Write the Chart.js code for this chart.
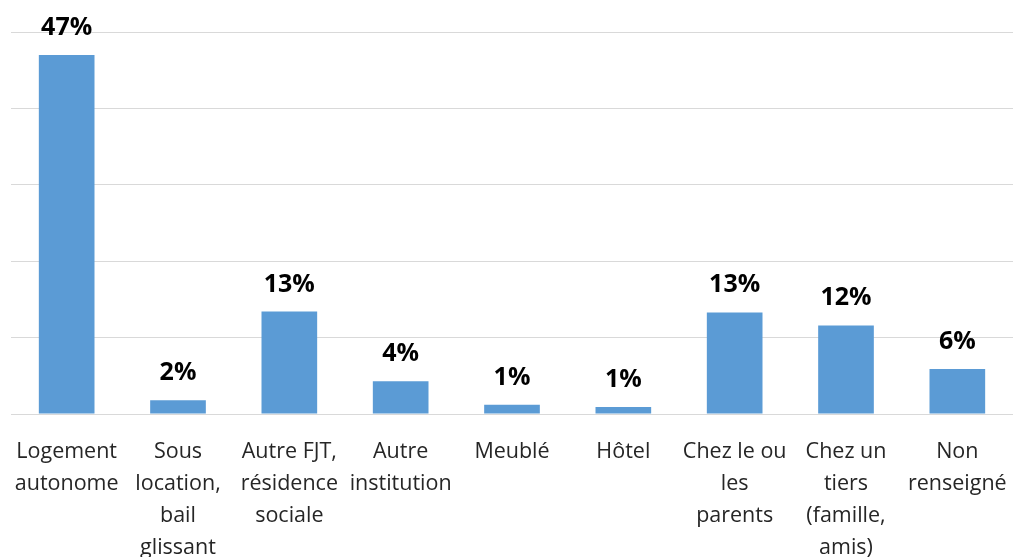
<!DOCTYPE html>
<html>
<head>
<meta charset="utf-8">
<script src="https://cdn.jsdelivr.net/npm/chart.js@4.4.1/dist/chart.umd.min.js"></script>
<style>
html,body{margin:0;padding:0;background:#fff;}
#wrap{width:1013px;height:557px;}
</style>
</head>
<body>
<div id="wrap"><canvas id="c" width="1013" height="557"></canvas></div>
<script>
const categories = [
  ["Logement","autonome"],
  ["Sous","location,","bail","glissant"],
  ["Autre FJT,","résidence","sociale"],
  ["Autre","institution"],
  ["Meublé"],
  ["Hôtel"],
  ["Chez le ou","les","parents"],
  ["Chez un","tiers","(famille,","amis)"],
  ["Non","renseigné"]
];
const values = [47, 1.8, 13.4, 4.3, 1.2, 0.9, 13.3, 11.6, 5.9];
const valueLabels = ["47%","2%","13%","4%","1%","1%","13%","12%","6%"];
const yMax = 50;
const yStep = 10;

const labelPlugin = {
  id: 'valueLabels',
  afterDatasetsDraw(chart) {
    const ctx = chart.ctx;
    const meta = chart.getDatasetMeta(0);
    ctx.save();
    ctx.font = 'bold 25px "Open Sans"';
    ctx.fillStyle = '#000';
    ctx.textAlign = 'center';
    ctx.textBaseline = 'alphabetic';
    meta.data.forEach((bar, i) => {
      ctx.fillText(valueLabels[i], bar.x, bar.y - 20);
    });
    ctx.restore();
  }
};

new Chart(document.getElementById('c'), {
  type: 'bar',
  data: {
    labels: categories,
    datasets: [{
      data: values,
      backgroundColor: '#5B9BD5',
      borderWidth: 0,
      barPercentage: 1,
      categoryPercentage: 0.5
    }]
  },
  options: {
    responsive: false,
    animation: false,
    layout: { padding: { left: 11, right: 0, top: 32, bottom: 0 } },
    plugins: { legend: { display: false }, tooltip: { enabled: false } },
    scales: {
      x: {
        grid: { display: false },
        border: { display: false },
        ticks: {
          color: '#262626',
          font: { family: '"Open Sans"', size: 21.5, lineHeight: 1.49 },
          padding: 14,
          maxRotation: 0,
          autoSkip: false
        },
        afterFit(scale) { scale.height = 143; scale.paddingLeft = 0; scale.paddingRight = 0; }
      },
      y: {
        min: 0,
        max: yMax,
        ticks: { display: false, stepSize: yStep },
        grid: { color: '#D9D9D9', lineWidth: 1, drawTicks: false },
        border: { display: false },
        afterFit(scale) { scale.width = 0; scale.paddingTop = 0; scale.paddingBottom = 0; }
      }
    }
  },
  plugins: [labelPlugin]
});
</script>
</body>
</html>
